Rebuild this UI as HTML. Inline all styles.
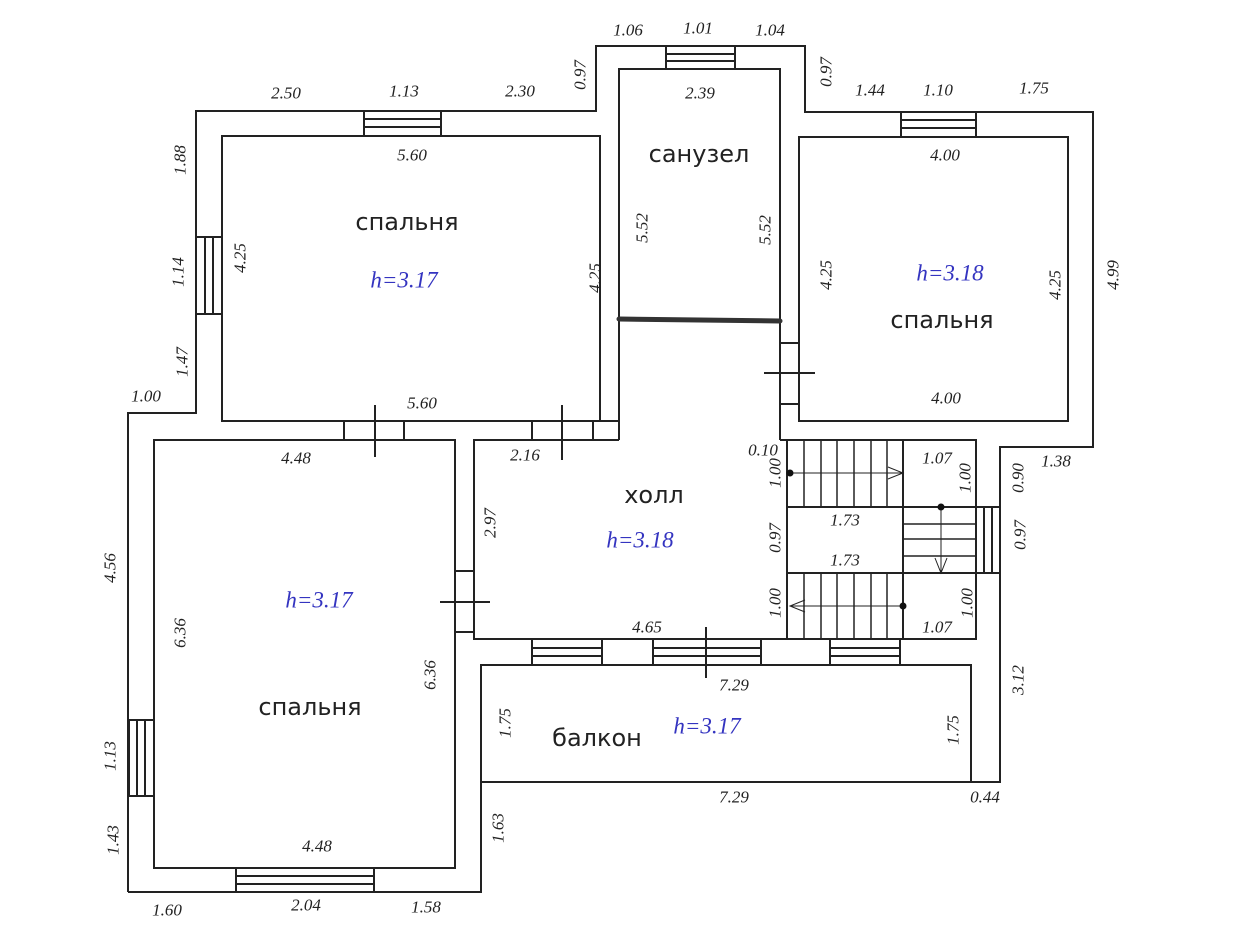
<!DOCTYPE html>
<html><head><meta charset="utf-8"><style>
html,body{margin:0;padding:0;background:#fff;}
svg{display:block}
.d{font-family:"Liberation Serif",serif;font-style:italic;font-size:17px;fill:#222;text-anchor:middle;dominant-baseline:central}
.r{font-family:"DejaVu Sans","Liberation Sans",sans-serif;font-size:24px;fill:#222;text-anchor:middle;dominant-baseline:central}
.h{font-family:"Liberation Serif",serif;font-style:italic;font-size:23px;fill:#3434c0;text-anchor:middle;dominant-baseline:central}
</style></head><body>
<svg width="1238" height="947" viewBox="0 0 1238 947" xmlns="http://www.w3.org/2000/svg">
<rect width="1238" height="947" fill="#fff"/>
<g stroke="#222" stroke-width="2" fill="none">
<!-- outer walls -->
<polyline points="128,892 128,413 196,413 196,111 596,111 596,46 805,46 805,112 1093,112 1093,447 1000,447 1000,782 481,782 481,892 128,892"/>
<!-- bedroom 1 -->
<rect x="222" y="136" width="378" height="285"/>
<!-- lower bedroom -->
<rect x="154" y="440" width="301" height="428"/>
<!-- sanuzel -->
<polyline points="619,440 619,69 780,69 780,440"/>
<!-- right bedroom -->
<rect x="799" y="137" width="269" height="284"/>
<!-- hall -->
<polyline points="619,440 474,440 474,639 976,639 976,440 780,440"/>
<!-- balcony -->
<polyline points="481,782 481,665 971,665 971,782"/>
<!-- stairs -->
<line x1="787" y1="440" x2="787" y2="639"/>
<line x1="787" y1="507" x2="976" y2="507"/>
<line x1="787" y1="573" x2="976" y2="573"/>
<line x1="903" y1="440" x2="903" y2="507"/>
<line x1="903" y1="573" x2="903" y2="639"/>
<line x1="903" y1="507" x2="903" y2="573"/>
<g stroke-width="1.5">
<line x1="804" y1="440" x2="804" y2="507"/><line x1="821" y1="440" x2="821" y2="507"/><line x1="837" y1="440" x2="837" y2="507"/><line x1="854" y1="440" x2="854" y2="507"/><line x1="871" y1="440" x2="871" y2="507"/><line x1="887" y1="440" x2="887" y2="507"/>
<line x1="804" y1="573" x2="804" y2="639"/><line x1="821" y1="573" x2="821" y2="639"/><line x1="837" y1="573" x2="837" y2="639"/><line x1="854" y1="573" x2="854" y2="639"/><line x1="871" y1="573" x2="871" y2="639"/><line x1="887" y1="573" x2="887" y2="639"/>
<line x1="903" y1="524" x2="976" y2="524"/><line x1="903" y1="539" x2="976" y2="539"/><line x1="903" y1="556" x2="976" y2="556"/>
</g>
<g stroke-width="1">
<line x1="790" y1="473" x2="903" y2="473"/><polyline points="888,467 903,473 888,479"/>
<line x1="941" y1="507" x2="941" y2="573"/><polyline points="935,558 941,573 947,558"/>
<line x1="903" y1="606" x2="790" y2="606"/><polyline points="805,600 790,606 805,612"/>
</g>
<!-- windows -->
<rect x="364" y="111" width="77" height="25"/><line x1="364" y1="119" x2="441" y2="119"/><line x1="364" y1="127" x2="441" y2="127"/>
<rect x="666" y="46" width="69" height="23"/><line x1="666" y1="54" x2="735" y2="54"/><line x1="666" y1="61" x2="735" y2="61"/>
<rect x="901" y="112" width="75" height="25"/><line x1="901" y1="120" x2="976" y2="120"/><line x1="901" y1="128" x2="976" y2="128"/>
<rect x="196" y="237" width="26" height="77"/><line x1="205" y1="237" x2="205" y2="314"/><line x1="213" y1="237" x2="213" y2="314"/>
<rect x="129" y="720" width="25" height="76"/><line x1="137" y1="720" x2="137" y2="796"/><line x1="145" y1="720" x2="145" y2="796"/>
<rect x="236" y="868" width="138" height="24"/><line x1="236" y1="876" x2="374" y2="876"/><line x1="236" y1="884" x2="374" y2="884"/>
<rect x="976" y="507" width="24" height="66"/><line x1="984" y1="507" x2="984" y2="573"/><line x1="992" y1="507" x2="992" y2="573"/>
<rect x="532" y="639" width="70" height="26"/><line x1="532" y1="648" x2="602" y2="648"/><line x1="532" y1="656" x2="602" y2="656"/>
<rect x="653" y="639" width="108" height="26"/><line x1="653" y1="648" x2="761" y2="648"/><line x1="653" y1="656" x2="761" y2="656"/>
<rect x="830" y="639" width="70" height="26"/><line x1="830" y1="648" x2="900" y2="648"/><line x1="830" y1="656" x2="900" y2="656"/>
<!-- doors -->
<line x1="344" y1="421" x2="344" y2="440"/><line x1="404" y1="421" x2="404" y2="440"/><line x1="375" y1="405" x2="375" y2="457"/>
<line x1="532" y1="421" x2="532" y2="440"/><line x1="593" y1="421" x2="593" y2="440"/><line x1="562" y1="405" x2="562" y2="460"/>
<line x1="600" y1="421" x2="619" y2="421"/>
<line x1="780" y1="343" x2="799" y2="343"/><line x1="780" y1="404" x2="799" y2="404"/><line x1="764" y1="373" x2="815" y2="373"/>
<line x1="455" y1="571" x2="474" y2="571"/><line x1="455" y1="632" x2="474" y2="632"/><line x1="440" y1="602" x2="490" y2="602"/>
<line x1="706" y1="627" x2="706" y2="678"/>
</g>
<circle cx="790" cy="473" r="3.5" fill="#111"/><circle cx="941" cy="507" r="3.5" fill="#111"/><circle cx="903" cy="606" r="3.5" fill="#111"/>
<line x1="619" y1="319" x2="780" y2="321" stroke="#333" stroke-width="5" stroke-linecap="round"/>
<!-- horizontal dims -->
<g class="d">
<text x="628" y="30">1.06</text><text x="698" y="28">1.01</text><text x="770" y="30">1.04</text>
<text x="286" y="93">2.50</text><text x="404" y="91">1.13</text><text x="520" y="91">2.30</text>
<text x="700" y="93">2.39</text><text x="870" y="90">1.44</text><text x="938" y="90">1.10</text><text x="1034" y="88">1.75</text>
<text x="412" y="155">5.60</text><text x="945" y="155">4.00</text><text x="422" y="403">5.60</text><text x="946" y="398">4.00</text>
<text x="146" y="396">1.00</text><text x="763" y="450">0.10</text><text x="937" y="458">1.07</text><text x="1056" y="461">1.38</text>
<text x="296" y="458">4.48</text><text x="525" y="455">2.16</text><text x="845" y="520">1.73</text><text x="845" y="560">1.73</text>
<text x="937" y="627">1.07</text><text x="647" y="627">4.65</text><text x="734" y="685">7.29</text><text x="734" y="797">7.29</text>
<text x="985" y="797">0.44</text><text x="317" y="846">4.48</text><text x="167" y="910">1.60</text><text x="306" y="905">2.04</text><text x="426" y="907">1.58</text>
</g>
<!-- vertical dims -->
<g class="d">
<text transform="translate(580,75) rotate(-90)">0.97</text>
<text transform="translate(180,160) rotate(-90)">1.88</text>
<text transform="translate(178,272) rotate(-90)">1.14</text>
<text transform="translate(182,362) rotate(-90)">1.47</text>
<text transform="translate(240,258) rotate(-90)">4.25</text>
<text transform="translate(595,278) rotate(-90)">4.25</text>
<text transform="translate(642,228) rotate(-90)">5.52</text>
<text transform="translate(765,230) rotate(-90)">5.52</text>
<text transform="translate(826,72) rotate(-90)">0.97</text>
<text transform="translate(826,275) rotate(-90)">4.25</text>
<text transform="translate(1055,285) rotate(-90)">4.25</text>
<text transform="translate(1113,275) rotate(-90)">4.99</text>
<text transform="translate(775,473) rotate(-90)">1.00</text>
<text transform="translate(965,478) rotate(-90)">1.00</text>
<text transform="translate(1018,478) rotate(-90)">0.90</text>
<text transform="translate(775,538) rotate(-90)">0.97</text>
<text transform="translate(1020,535) rotate(-90)">0.97</text>
<text transform="translate(775,603) rotate(-90)">1.00</text>
<text transform="translate(967,603) rotate(-90)">1.00</text>
<text transform="translate(1018,680) rotate(-90)">3.12</text>
<text transform="translate(490,523) rotate(-90)">2.97</text>
<text transform="translate(110,568) rotate(-90)">4.56</text>
<text transform="translate(180,633) rotate(-90)">6.36</text>
<text transform="translate(430,675) rotate(-90)">6.36</text>
<text transform="translate(110,756) rotate(-90)">1.13</text>
<text transform="translate(113,840) rotate(-90)">1.43</text>
<text transform="translate(505,723) rotate(-90)">1.75</text>
<text transform="translate(953,730) rotate(-90)">1.75</text>
<text transform="translate(498,828) rotate(-90)">1.63</text>
</g>
<g class="r">
<text x="407" y="222">спальня</text><text x="699" y="154">санузел</text><text x="942" y="320">спальня</text>
<text x="654" y="495">холл</text><text x="310" y="707">спальня</text><text x="597" y="738">балкон</text>
</g>
<g class="h">
<text x="404" y="280">h=3.17</text><text x="950" y="273">h=3.18</text><text x="640" y="540">h=3.18</text>
<text x="319" y="600">h=3.17</text><text x="707" y="726">h=3.17</text>
</g>
</svg>
</body></html>
